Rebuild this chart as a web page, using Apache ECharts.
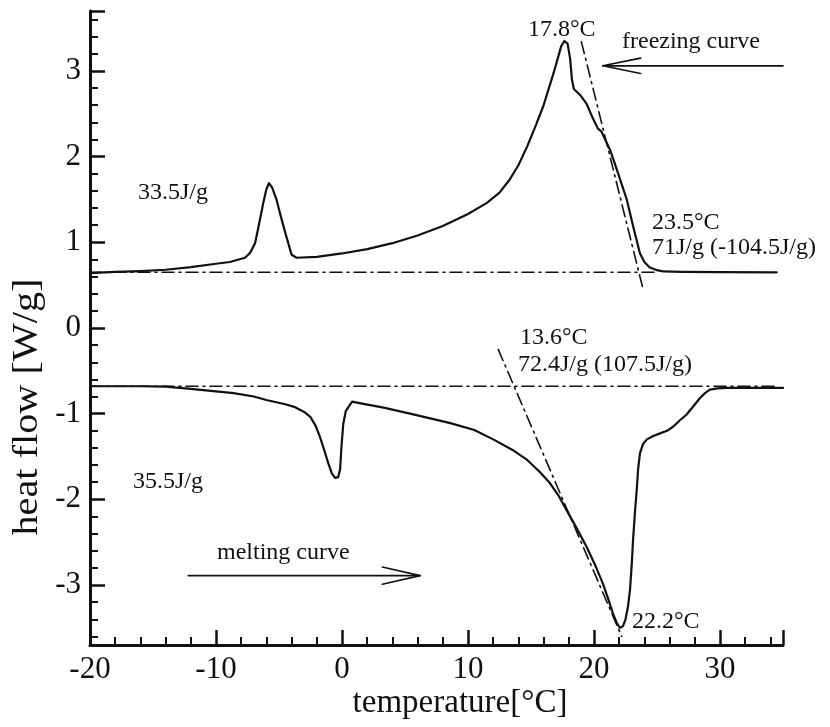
<!DOCTYPE html>
<html>
<head>
<meta charset="utf-8">
<title>DSC heat flow</title>
<script src="https://cdn.jsdelivr.net/npm/echarts@6/dist/echarts.min.js"></script>
<style>
  html, body { margin: 0; padding: 0; background: #fff; }
  #chart { width: 830px; height: 727px; }
</style>
</head>
<body>
<div id="chart"></div>
<script>
// freezing curve (upper), [temperature, heat flow]
const freezingCurve = [
  [-20, 0.64], [-18, 0.655], [-16, 0.665], [-14, 0.68], [-12, 0.71], [-10, 0.75],
  [-8.9, 0.77], [-7.7, 0.82], [-7.3, 0.875], [-6.9, 0.99], [-6.6, 1.2], [-6.25, 1.46],
  [-6.0, 1.62], [-5.8, 1.69], [-5.55, 1.64], [-5.2, 1.5], [-4.85, 1.3], [-4.5, 1.11],
  [-4.0, 0.855], [-3.6, 0.82], [-2, 0.83], [0, 0.87], [2, 0.92], [4, 0.99], [6, 1.08],
  [8, 1.19], [10, 1.33], [11.5, 1.46], [12.5, 1.58], [13.3, 1.73], [14, 1.9], [14.7, 2.12],
  [15.4, 2.37], [16, 2.6], [16.8, 2.98], [17.4, 3.29], [17.65, 3.35], [17.9, 3.32],
  [18.1, 3.15], [18.25, 2.9], [18.4, 2.79], [18.9, 2.72], [19.4, 2.62], [19.9, 2.45],
  [20.3, 2.33], [20.6, 2.29], [21.3, 2.07], [21.9, 1.81], [22.6, 1.5], [23.1, 1.19],
  [23.65, 0.87], [24, 0.77], [24.4, 0.71], [25, 0.675], [25.5, 0.66], [27, 0.655],
  [30, 0.652], [34.5, 0.65]
];

// melting curve (lower)
const meltingCurve = [
  [-20, -0.68], [-16, -0.68], [-14, -0.685], [-12, -0.71], [-10, -0.74], [-8.6, -0.76],
  [-7, -0.8], [-6, -0.84], [-4.5, -0.89], [-3.8, -0.92], [-3, -0.98], [-2.5, -1.04],
  [-2.1, -1.14], [-1.75, -1.27], [-1.4, -1.43], [-1.1, -1.575], [-0.8, -1.7], [-0.55, -1.75],
  [-0.3, -1.74], [-0.15, -1.65], [-0.05, -1.4], [0.1, -1.12], [0.3, -0.97], [0.8, -0.86],
  [1.5, -0.88], [3.3, -0.93], [5.4, -1.0], [8.6, -1.11], [10.5, -1.19], [12, -1.3],
  [13.5, -1.42], [14.7, -1.54], [15.7, -1.68], [16.5, -1.81], [17.2, -1.96], [17.8, -2.12],
  [18.6, -2.33], [19.4, -2.55], [20.1, -2.77], [20.7, -2.98], [21.1, -3.15], [21.5, -3.33],
  [21.8, -3.44], [22.06, -3.5], [22.3, -3.48], [22.5, -3.4], [22.7, -3.25], [22.86, -3.05],
  [23.0, -2.75], [23.1, -2.47], [23.25, -2.15], [23.39, -1.89], [23.5, -1.65], [23.65, -1.46],
  [23.9, -1.35], [24.2, -1.3], [24.7, -1.26], [25.24, -1.23], [25.8, -1.2], [26.3, -1.15],
  [26.8, -1.08], [27.35, -1.01], [27.9, -0.91], [28.4, -0.82], [28.8, -0.76], [29.2, -0.72],
  [29.8, -0.705], [30.5, -0.7], [35, -0.7]
];

// construction lines (baselines and onset tangents)
const upperBaseline = [[-20, 0.65], [25, 0.65]];
const upperTangent = [[19.0, 3.34], [23.9, 0.45]];
const lowerBaseline = [[-20, -0.68], [34.5, -0.68]];
const lowerTangent = [[12.4, -0.25], [22.2, -3.6]];

// direction arrows
const freezingArrowShaft = [[35, 3.06], [20.7, 3.06]];
const freezingArrowHead = [[23.7, 3.15], [20.7, 3.06], [23.7, 2.97]];
const meltingArrowShaft = [[-12.2, -2.89], [6.2, -2.89]];
const meltingArrowHead = [[3.2, -2.79], [6.2, -2.89], [3.2, -2.99]];

// axis settings
const xRange = [-20, 35];
const yRange = [-3.7, 3.7];

// annotations: [text, left, middle y]
const notes = [
  ['33.5J/g', 138, 193],
  ['17.8°C', 528, 30],
  ['freezing curve', 622, 42],
  ['23.5°C', 652, 223],
  ['71J/g (-104.5J/g)', 652, 248],
  ['13.6°C', 520, 338],
  ['72.4J/g (107.5J/g)', 518, 365],
  ['35.5J/g', 133, 482],
  ['melting curve', 217, 553],
  ['22.2°C', 632, 622]
];

const ink = '#111';
const serif = '"Liberation Serif", "DejaVu Serif", serif';

function lineSeries(data, width, type, z) {
  return {
    type: 'line',
    data: data,
    showSymbol: false,
    silent: true,
    z: z,
    lineStyle: { color: ink, width: width, type: type, join: 'round', cap: 'round' }
  };
}

const chart = echarts.init(document.getElementById('chart'));

const dashDot = [12, 5, 2, 5];

const option = {
  animation: false,
  backgroundColor: '#fff',
  grid: { left: 90, right: 47, top: 11, bottom: 82 },
  xAxis: {
    type: 'value',
    min: xRange[0],
    max: xRange[1],
    interval: 10,
    axisLine: { onZero: false, lineStyle: { color: ink, width: 3 } },
    axisTick: { inside: true, length: 15, lineStyle: { color: ink, width: 2.5 } },
    minorTick: { show: true, splitNumber: 5, length: 8, lineStyle: { color: ink, width: 2 } },
    splitLine: { show: false },
    axisLabel: {
      color: ink, fontFamily: serif, fontSize: 31, margin: 9,
      formatter: v => (v === xRange[1] ? '' : String(v))
    }
  },
  yAxis: {
    type: 'value',
    min: yRange[0],
    max: yRange[1],
    minInterval: 1,
    maxInterval: 1,
    axisLine: { show: true, onZero: false, lineStyle: { color: ink, width: 3 } },
    axisTick: { show: true, inside: true, length: 15, lineStyle: { color: ink, width: 2.5 } },
    minorTick: { show: true, splitNumber: 5, length: 8, lineStyle: { color: ink, width: 2 } },
    splitLine: { show: false },
    axisLabel: {
      color: ink, fontFamily: serif, fontSize: 31, margin: 9,
      formatter: v => (Number.isInteger(v) ? String(v) : '')
    }
  },
  series: [
    lineSeries(upperBaseline, 1.6, dashDot, 1),
    lineSeries(upperTangent, 1.6, dashDot, 1),
    lineSeries(lowerBaseline, 1.6, dashDot, 1),
    lineSeries(lowerTangent, 1.6, dashDot, 1),
    lineSeries(freezingCurve, 2.2, 'solid', 3),
    lineSeries(meltingCurve, 2.2, 'solid', 3),
    lineSeries(freezingArrowShaft, 1.6, 'solid', 2),
    lineSeries(freezingArrowHead, 1.6, 'solid', 2),
    lineSeries(meltingArrowShaft, 1.6, 'solid', 2),
    lineSeries(meltingArrowHead, 1.6, 'solid', 2)
  ],
  graphic: notes.map(n => ({
    type: 'text',
    x: n[1],
    y: n[2],
    silent: true,
    style: {
      text: n[0],
      font: '24px ' + serif,
      fill: ink,
      align: 'left',
      verticalAlign: 'middle'
    }
  })).concat([
    {
      type: 'text',
      x: 460,
      y: 703,
      silent: true,
      style: {
        text: 'temperature[°C]',
        font: '33px ' + serif,
        fill: ink,
        align: 'center',
        verticalAlign: 'middle'
      }
    },
    {
      type: 'text',
      x: 28,
      y: 407,
      rotation: Math.PI / 2,
      scaleX: 1.15,
      silent: true,
      style: {
        text: 'heat flow [W/g]',
        font: '35px ' + serif,
        fill: ink,
        align: 'center',
        verticalAlign: 'middle'
      }
    }
  ])
};

chart.setOption(option);
</script>
</body>
</html>
